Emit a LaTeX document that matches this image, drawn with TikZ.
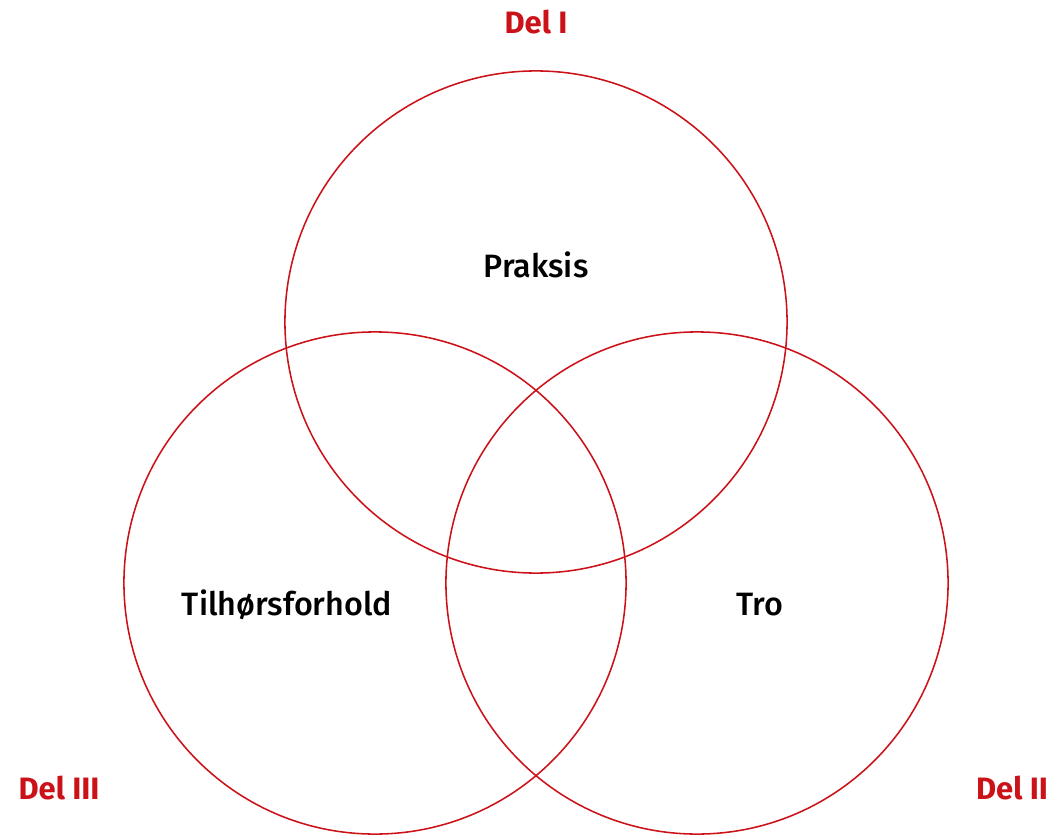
\documentclass[tikz,border=0pt]{standalone}
\usepackage{fontspec}
\setmainfont{Fira Sans}
\newfontfamily\firamed{Fira Sans Medium}
\usepackage{tikz}
\usetikzlibrary{backgrounds}
\definecolor{delred}{HTML}{CC1219}
\tikzset{
  ring/.style={circle,draw=delred,line width=1.1pt,minimum size=12.55cm,inner sep=0pt},
  felt/.style={font=\fontsize{23}{26}\firamed,text=black},
  del/.style={font=\fontsize{22}{25}\selectfont\bfseries,text=delred}
}
\begin{document}
\begin{tikzpicture}[x=0.025cm,y=-0.025cm]
\useasboundingbox (0,0) rectangle (1053,835);
\node[ring] (praksisring) at (536,322) {};
\node[ring] (tilhringet) at (375,583) {};
\node[ring] (troring) at (697,583) {};
\node[felt] (praksis) at (536,265) {Praksis};
\node[felt] (tilh) at (287,605) {Tilhørsforhold};
\node[felt] (tro) at (760,605) {Tro};
\node[del] (del1) at (536,22) {Del I};
\node[del] (del3) at (59,788) {Del III};
\node[del] (del2) at (1012,788) {Del II};
\end{tikzpicture}
\end{document}
